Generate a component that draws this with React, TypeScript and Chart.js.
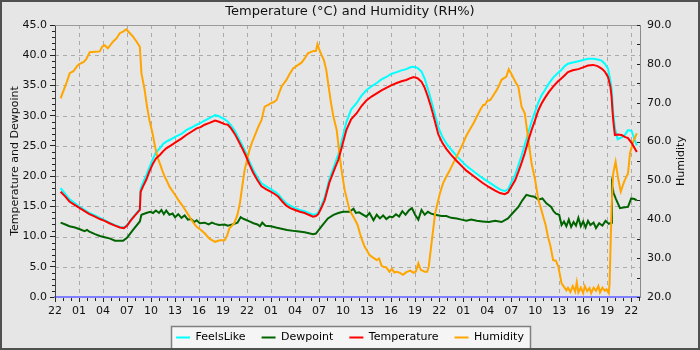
import React, { useEffect, useRef } from 'react';
import { Chart, registerables } from 'chart.js';

Chart.register(...registerables);

// ---------- text ----------
const TITLE = 'Temperature (°C) and Humidity (RH%)';
const LEFT_TITLE = 'Temperature and Dewpoint';
const RIGHT_TITLE = 'Humidity';
const SERIES_LABELS = ['FeelsLike', 'Dewpoint', 'Temperature', 'Humidity'];
const SERIES_COLORS = ['#00ffff', '#006400', '#ff0000', '#ffa500'];

// ---------- axes ----------
const START_HOUR = 22; // clock hour at x = 0
const X_MIN = 0;
const X_MAX = 73.1; // hours since 22:00 of first day
const X_STEP = 3;
const X_MINOR = 1;
const LEFT_MIN = 0;
const LEFT_MAX = 45;
const LEFT_STEP = 5;
const LEFT_MINOR = 1;
const RIGHT_MIN = 20;
const RIGHT_MAX = 90;
const RIGHT_STEP = 10;
const RIGHT_MINOR = 5;

// ---------- data (hours since 22:00 day 1) ----------
const tempHours = [
  0.7, 1.3, 1.8, 2.5, 3.1, 3.7, 4.3, 5.0, 5.6, 6.2, 6.8, 7.5, 8.1, 8.6, 9.0, 9.5, 10.0, 10.6, 10.7, 11.0,
  11.4, 11.8, 12.25, 12.6, 13.1, 13.5, 13.9, 14.5, 15.2, 15.8, 16.4, 17.0, 17.7, 18.2, 18.7, 19.3, 20.0, 20.5, 21.2, 21.6,
  22.0, 22.5, 22.9, 23.4, 23.9, 24.3, 24.75, 25.3, 25.8, 26.4, 27.0, 27.5, 27.9, 28.4, 28.9, 29.4, 30.0, 30.6, 31.2, 31.7,
  32.25, 32.6, 32.9, 33.3, 33.7, 34.3, 35.0, 35.4, 35.8, 36.4, 37.0, 37.7, 38.3, 38.9, 39.6, 40.2, 40.8, 41.4, 42.0, 42.7,
  43.3, 43.9, 44.4, 44.8, 45.3, 45.8, 46.2, 46.6, 47.0, 47.25, 47.6, 47.9, 48.4, 48.9, 49.5, 50.2, 50.8, 51.4, 52.0, 52.7,
  53.4, 54.2, 55.0, 55.6, 56.2, 56.6, 57.0, 57.5, 57.9, 58.3, 58.7, 59.1, 59.55, 60.0, 60.4, 60.8, 61.2, 61.7, 62.25, 62.8,
  63.3, 63.7, 64.1, 64.7, 65.4, 66.0, 66.6, 67.25, 67.8, 68.3, 68.7, 69.1, 69.4, 69.55, 69.65, 69.75, 69.96, 70.3, 70.8, 71.2,
  71.6, 72.05, 72.4, 72.7,
];
const temperature = [
  17.4, 16.6, 15.8, 15.2, 14.7, 14.2, 13.7, 13.3, 12.9, 12.6, 12.2, 11.8, 11.5, 11.4, 11.8, 12.7, 13.5, 14.4, 17.4, 18.3,
  19.4, 20.8, 22.1, 22.9, 23.5, 24.1, 24.6, 25.1, 25.7, 26.2, 26.8, 27.3, 27.9, 28.1, 28.5, 28.8, 29.2, 29.0, 28.6, 28.5,
  27.9, 26.9, 25.9, 24.6, 23.2, 21.9, 20.6, 19.3, 18.3, 17.8, 17.4, 17.0, 16.6, 15.8, 15.1, 14.7, 14.4, 14.1, 13.9, 13.6,
  13.3, 13.4, 13.7, 14.8, 16.0, 19.0, 21.4, 22.7, 24.6, 27.6, 29.4, 30.4, 31.6, 32.5, 33.2, 33.7, 34.2, 34.6, 35.0, 35.4,
  35.7, 35.9, 36.2, 36.4, 36.2, 35.6, 34.6, 33.1, 31.4, 30.2, 28.4, 26.9, 25.5, 24.5, 23.5, 22.5, 21.7, 20.9, 20.3, 19.6,
  18.9, 18.2, 17.6, 17.2, 17.0, 17.3, 18.2, 19.3, 20.7, 22.2, 23.8, 25.7, 27.6, 29.3, 30.9, 32.0, 32.9, 33.9, 34.8, 35.6,
  36.2, 36.7, 37.2, 37.5, 37.7, 38.0, 38.3, 38.4, 38.2, 37.8, 37.3, 36.4, 34.8, 33.1, 31.0, 29.3, 26.8, 26.9, 26.8, 26.5,
  26.3, 25.5, 24.7, 24.0,
];
const feelsLike = [
  18.0, 17.0, 16.2, 15.5, 14.9, 14.4, 13.9, 13.5, 13.1, 12.7, 12.3, 11.9, 11.6, 11.5, 11.9, 12.8, 13.6, 14.6, 17.9, 18.9,
  20.1, 21.5, 22.9, 23.9, 24.6, 25.3, 25.7, 26.1, 26.6, 27.0, 27.6, 28.0, 28.5, 28.8, 29.2, 29.6, 30.1, 29.9, 29.4, 29.0,
  28.4, 27.4, 26.4, 25.1, 23.7, 22.4, 21.1, 19.8, 18.8, 18.3, 17.8, 17.4, 17.0, 16.2, 15.5, 15.1, 14.7, 14.4, 14.2, 13.9,
  13.6, 13.7, 14.0, 15.2, 16.5, 19.6, 22.1, 23.6, 25.7, 28.9, 31.0, 32.1, 33.3, 34.2, 34.9, 35.4, 36.0, 36.4, 36.9, 37.2,
  37.5, 37.7, 38.0, 38.1, 37.9, 37.3, 36.1, 34.4, 32.6, 31.3, 29.6, 28.1, 26.5, 25.4, 24.4, 23.3, 22.5, 21.7, 21.1, 20.4,
  19.7, 19.0, 18.3, 17.8, 17.5, 17.8, 18.9, 20.2, 21.8, 23.4, 25.2, 27.0, 29.0, 30.7, 32.2, 33.4, 34.2, 35.3, 36.3, 37.0,
  37.6, 38.2, 38.6, 38.8, 39.0, 39.2, 39.4, 39.4, 39.3, 39.1, 38.6, 37.8, 35.8, 34.5, 32.5, 30.5, 28.0, 26.1, 26.4, 26.8,
  27.6, 27.5, 26.1, 25.1,
];

const dewHours = [
  0.7, 1.3, 1.8, 2.5, 3.1, 3.7, 4.0, 4.3, 5.0, 5.6, 6.2, 6.8, 7.5, 8.5, 9.0, 9.75, 10.6, 10.8, 11.4, 11.9,
  12.25, 12.6, 13.0, 13.3, 13.6, 13.9, 14.3, 14.7, 15.0, 15.4, 15.8, 16.2, 16.6, 17.0, 17.4, 17.7, 18.1, 18.7, 19.2, 19.6,
  20.0, 20.5, 21.2, 21.6, 22.4, 22.8, 23.2, 23.6, 24.3, 24.8, 25.3, 25.6, 25.9, 26.3, 27.0, 27.6, 28.3, 29.0, 30.0, 31.2,
  32.25, 32.6, 33.3, 34.1, 34.8, 35.4, 36.0, 36.8, 37.3, 37.6, 38.0, 38.9, 39.3, 39.8, 40.2, 40.6, 41.0, 41.4, 41.8, 42.2,
  42.6, 43.0, 43.4, 43.8, 44.2, 44.6, 45.0, 45.4, 45.8, 46.2, 46.6, 47.0, 47.5, 48.3, 48.9, 49.5, 50.2, 50.8, 51.4, 52.0,
  52.7, 53.4, 54.2, 55.0, 55.8, 56.6, 57.2, 57.9, 58.4, 58.9, 59.4, 59.9, 60.4, 60.9, 61.4, 62.0, 62.3, 62.6, 63.0, 63.3,
  63.6, 63.9, 64.2, 64.5, 64.8, 65.1, 65.4, 65.7, 66.0, 66.3, 66.6, 66.9, 67.3, 67.6, 68.0, 68.4, 68.8, 69.2, 69.5, 69.6,
  69.8, 70.1, 70.6, 71.0, 71.6, 72.0, 72.4, 72.7,
];
const dewpoint = [
  12.3, 12.0, 11.7, 11.5, 11.2, 10.9, 11.1, 10.8, 10.4, 10.1, 9.9, 9.7, 9.3, 9.3, 9.8, 11.1, 12.5, 13.6, 13.9, 14.1,
  13.9, 14.3, 13.9, 14.4, 13.7, 14.3, 13.6, 13.8, 13.2, 13.7, 13.1, 13.5, 12.8, 12.9, 12.4, 12.7, 12.2, 12.3, 12.0, 12.3,
  12.1, 11.9, 12.0, 11.8, 12.1, 12.3, 13.2, 12.9, 12.5, 12.2, 12.0, 11.7, 12.3, 11.8, 11.7, 11.5, 11.3, 11.1, 10.9, 10.7,
  10.4, 10.5, 11.7, 13.0, 13.6, 13.9, 14.1, 14.1, 14.6, 13.9, 14.0, 13.3, 13.9, 12.7, 13.6, 13.0, 13.5, 12.9, 13.3, 13.2,
  13.7, 13.3, 14.2, 13.6, 14.3, 14.7, 13.6, 12.8, 14.4, 13.6, 14.1, 13.8, 13.6, 13.4, 13.4, 13.1, 13.0, 12.8, 12.6, 12.8,
  12.6, 12.5, 12.4, 12.6, 12.4, 13.0, 13.9, 14.9, 16.0, 16.9, 16.7, 16.6, 16.1, 16.3, 15.5, 14.9, 14.2, 13.8, 13.6, 11.9,
  12.5, 11.7, 12.8, 11.6, 12.4, 11.8, 13.1, 11.7, 12.5, 11.5, 12.6, 11.9, 12.3, 11.4, 12.2, 11.8, 12.6, 12.1, 12.3, 18.5,
  17.2, 16.2, 14.7, 14.8, 14.9, 16.3, 16.2, 16.0,
];

const humHours = [
  0.7, 1.1, 1.5, 1.84, 2.3, 2.8, 3.09, 3.6, 3.9, 4.34, 5.0, 5.59, 5.9, 6.2, 6.6, 7.25, 7.7, 8.09, 8.5, 8.9,
  9.3, 9.75, 10.2, 10.6, 10.8, 11.2, 11.5, 11.8, 12.2, 12.5, 12.8, 13.1, 13.4, 13.7, 14.0, 14.3, 14.8, 15.1, 15.4, 15.9,
  16.4, 17.0, 17.4, 17.7, 18.2, 18.7, 19.3, 20.0, 20.6, 21.2, 21.5, 21.8, 22.1, 22.4, 22.8, 23.1, 23.4, 23.7, 24.0, 24.3,
  24.6, 25.0, 25.4, 25.8, 26.2, 26.6, 27.0, 27.3, 27.7, 28.0, 28.3, 28.6, 28.9, 29.3, 29.75, 30.3, 30.8, 31.2, 31.6, 32.0,
  32.3, 32.6, 32.8, 33.0, 33.3, 33.6, 33.9, 34.2, 34.5, 34.8, 35.2, 35.5, 35.8, 36.2, 36.8, 37.5, 37.8, 38.1, 38.4, 38.7,
  39.0, 39.3, 39.7, 40.2, 40.5, 40.8, 41.0, 41.4, 41.8, 42.1, 42.4, 42.7, 43.1, 43.5, 43.9, 44.4, 44.8, 45.1, 45.4, 45.7,
  46.2, 46.5, 46.7, 47.1, 47.5, 48.1, 48.5, 48.9, 49.3, 49.75, 50.4, 51.0, 51.4, 51.8, 52.3, 52.7, 53.1, 53.5, 53.7, 54.0,
  54.4, 54.8, 55.2, 55.5, 55.8, 56.4, 56.7, 57.0, 57.3, 57.6, 57.9, 58.3, 58.7, 59.1, 59.55, 60.0, 60.4, 60.7, 61.0, 61.3,
  61.6, 61.9, 62.25, 62.6, 62.9, 63.3, 63.6, 63.9, 64.1, 64.4, 64.7, 65.0, 65.2, 65.4, 65.7, 66.0, 66.2, 66.5, 66.8, 67.0,
  67.3, 67.6, 67.9, 68.1, 68.4, 68.7, 68.9, 69.2, 69.3, 69.55, 69.75, 70.05, 70.4, 70.7, 71.0, 71.2, 71.6, 71.85, 72.25, 72.7,
];
const humidity = [
  71.1, 73.3, 75.5, 77.6, 78.1, 79.5, 80.0, 80.5, 81.2, 83.0, 83.1, 83.2, 84.4, 84.8, 84.0, 85.7, 86.6, 87.9, 88.3, 88.9,
  88.0, 87.0, 85.7, 84.4, 77.6, 73.3, 69.0, 65.5, 62.0, 58.7, 56.0, 54.4, 52.6, 51.0, 49.8, 48.4, 46.9, 46.0, 45.0, 43.6,
  42.0, 40.0, 38.8, 38.1, 37.3, 36.4, 35.0, 34.2, 34.6, 34.6, 35.8, 37.7, 38.3, 39.0, 41.2, 44.1, 48.5, 52.7, 55.3, 57.8,
  59.7, 61.7, 63.8, 65.5, 69.0, 69.4, 69.9, 70.1, 70.7, 72.5, 74.1, 75.0, 75.8, 77.3, 78.8, 79.6, 80.3, 81.4, 82.7, 83.1,
  83.3, 83.3, 85.1, 83.8, 82.3, 81.0, 78.4, 74.0, 69.8, 66.3, 63.0, 57.5, 52.7, 47.5, 42.4, 39.8, 38.6, 36.4, 34.5, 32.9,
  31.9, 30.8, 30.2, 29.5, 29.9, 28.1, 27.8, 27.6, 26.5, 27.3, 26.3, 26.5, 26.2, 25.7, 26.4, 26.8, 26.2, 26.6, 28.7, 27.0,
  26.5, 26.5, 27.8, 34.7, 41.5, 46.7, 49.3, 51.0, 52.5, 54.4, 57.0, 59.6, 61.5, 63.0, 64.7, 66.4, 68.0, 69.4, 69.4, 70.4,
  70.7, 72.0, 73.3, 74.5, 75.9, 76.7, 78.6, 77.5, 76.3, 75.1, 74.1, 69.0, 67.3, 61.2, 54.4, 50.1, 45.0, 43.0, 40.7, 38.6,
  35.5, 33.2, 29.5, 29.3, 27.8, 23.5, 22.6, 21.7, 22.4, 21.3, 22.8, 21.4, 23.8, 21.2, 22.4, 21.0, 22.8, 21.5, 22.3, 21.0,
  22.4, 21.6, 22.8, 21.2, 22.4, 21.6, 22.0, 21.0, 23.5, 43.2, 51.8, 54.8, 50.1, 47.1, 49.0, 50.1, 51.8, 57.0, 60.0, 62.1,
];

// ---------- style ----------
const FONT = 'DejaVu Sans';
const BG = '#e6e6e6';
const GRID = '#ababab';
const TEXT = '#111111';

const toPoints = (xs: number[], ys: number[]) => xs.map((x, i) => ({ x, y: ys[i] }));
const pad2 = (n: number) => (n < 10 ? '0' + n : String(n));

function drawDashedGrid(chart: any) {
  const { ctx, chartArea: ca, scales } = chart;
  const xs = scales.x;
  const yl = scales.y;
  ctx.save();
  ctx.strokeStyle = GRID;
  ctx.lineWidth = 1;
  ctx.setLineDash([4, 4]);
  for (let h = X_MIN + X_STEP; h < X_MAX; h += X_STEP) {
    const px = Math.round(xs.getPixelForValue(h)) + 0.5;
    ctx.beginPath();
    ctx.moveTo(px, ca.top);
    ctx.lineTo(px, ca.bottom);
    ctx.stroke();
  }
  for (let v = LEFT_MIN + LEFT_STEP; v < LEFT_MAX; v += LEFT_STEP) {
    const py = Math.round(yl.getPixelForValue(v)) + 0.5;
    ctx.beginPath();
    ctx.moveTo(ca.left, py);
    ctx.lineTo(ca.right, py);
    ctx.stroke();
  }
  ctx.restore();
}

const decorPlugin = {
  id: 'decor',
  beforeDraw(chart: any) {
    const { ctx, width, height } = chart;
    ctx.save();
    ctx.fillStyle = BG;
    ctx.fillRect(0, 0, width, height);
    // legend frame
    const lg = chart.legend;
    if (lg && lg.lineWidths) {
      const p = lg.options.labels.padding;
      const rowW = lg.lineWidths[0] - p;
      const start = (lg.left + p + lg.right - lg.lineWidths[0]) / 2;
      const cy = lg.top + p + 11 / 2;
      const x0 = Math.round(start - 5) + 0.5;
      const x1 = Math.round(start + rowW + 6) + 0.5;
      const y0 = Math.round(cy - 12) + 0.5;
      const y1 = Math.round(cy + 11) + 0.5;
      ctx.fillStyle = '#f5f5f5';
      ctx.fillRect(x0, y0, x1 - x0, y1 - y0);
      ctx.strokeStyle = '#808080';
      ctx.lineWidth = 1.5;
      ctx.strokeRect(x0, y0, x1 - x0, y1 - y0);
    }
    ctx.restore();
    drawDashedGrid(chart);
  },
  afterDraw(chart: any) {
    const { ctx, chartArea: ca, scales, width, height } = chart;
    const xs = scales.x;
    const yl = scales.y;
    const yr = scales.y1;
    ctx.save();
    // top outline of plot
    ctx.strokeStyle = '#9a9a9a';
    ctx.lineWidth = 1;
    ctx.beginPath();
    ctx.moveTo(ca.left, Math.round(ca.top) + 0.5);
    ctx.lineTo(ca.right, Math.round(ca.top) + 0.5);
    ctx.stroke();
    // minor ticks
    ctx.strokeStyle = '#222222';
    ctx.beginPath();
    for (let h = X_MIN + X_MINOR; h < X_MAX; h += X_MINOR) {
      if (Math.abs(h % X_STEP) < 1e-6) continue;
      const px = Math.round(xs.getPixelForValue(h)) + 0.5;
      ctx.moveTo(px, ca.bottom + 1);
      ctx.lineTo(px, ca.bottom + 4);
    }
    for (let v = LEFT_MIN + LEFT_MINOR; v < LEFT_MAX; v += LEFT_MINOR) {
      if (Math.abs(v % LEFT_STEP) < 1e-6) continue;
      const py = Math.round(yl.getPixelForValue(v)) + 0.5;
      ctx.moveTo(ca.left - 3, py);
      ctx.lineTo(ca.left, py);
    }
    for (let v = RIGHT_MIN; v <= RIGHT_MAX; v += RIGHT_MINOR) {
      const py = Math.round(yr.getPixelForValue(v)) + 0.5;
      ctx.moveTo(ca.right - 3, py);
      ctx.lineTo(ca.right, py);
    }
    ctx.stroke();
    // right axis title (reads bottom to top)
    ctx.fillStyle = TEXT;
    ctx.font = `11px "${FONT}"`;
    ctx.textAlign = 'center';
    ctx.textBaseline = 'middle';
    ctx.translate(681, (ca.top + ca.bottom) / 2);
    ctx.rotate(-Math.PI / 2);
    ctx.fillText(RIGHT_TITLE, 0, 0);
    ctx.setTransform(1, 0, 0, 1, 0, 0);
    // outer frame
    ctx.strokeStyle = '#505050';
    ctx.lineWidth = 2;
    ctx.strokeRect(1, 1, width - 2, height - 2);
    ctx.restore();
  },
};

export default function App() {
  const canvasRef = useRef<HTMLCanvasElement | null>(null);

  useEffect(() => {
    if (!canvasRef.current) return;
    Chart.defaults.font.family = FONT;
    const common = { borderWidth: 2, pointRadius: 0, tension: 0, fill: false };
    const chart = new Chart(canvasRef.current, {
      type: 'line',
      data: {
        datasets: [
          { ...common, label: SERIES_LABELS[0], data: toPoints(tempHours, feelsLike), borderColor: SERIES_COLORS[0], backgroundColor: SERIES_COLORS[0], yAxisID: 'y', order: 2 },
          { ...common, label: SERIES_LABELS[1], data: toPoints(dewHours, dewpoint), borderColor: SERIES_COLORS[1], backgroundColor: SERIES_COLORS[1], yAxisID: 'y', order: 3 },
          { ...common, label: SERIES_LABELS[2], data: toPoints(tempHours, temperature), borderColor: SERIES_COLORS[2], backgroundColor: SERIES_COLORS[2], yAxisID: 'y', order: 0 },
          { ...common, label: SERIES_LABELS[3], data: toPoints(humHours, humidity), borderColor: SERIES_COLORS[3], backgroundColor: SERIES_COLORS[3], yAxisID: 'y1', order: 1 },
        ],
      },
      options: {
        responsive: false,
        animation: false,
        devicePixelRatio: 1,
        events: [],
        layout: { padding: { left: 2, right: 2, top: 2, bottom: -3 } },
        plugins: {
          title: {
            display: true,
            text: TITLE,
            color: TEXT,
            font: { family: FONT, size: 13, weight: 'normal' },
            padding: { top: 2, bottom: 5.4 },
          },
          legend: {
            display: true,
            position: 'bottom',
            labels: {
              boxWidth: 14,
              boxHeight: 2,
              padding: 16,
              color: TEXT,
              font: { family: FONT, size: 11 },
              generateLabels: (c: any) =>
                c.data.datasets.map((ds: any, i: number) => ({
                  text: ds.label,
                  fillStyle: ds.borderColor,
                  strokeStyle: ds.borderColor,
                  lineWidth: 0,
                  hidden: false,
                  datasetIndex: i,
                })),
            },
          },
          tooltip: { enabled: false },
        },
        scales: {
          x: {
            type: 'linear',
            min: X_MIN,
            max: X_MAX,
            ticks: {
              stepSize: X_STEP,
              includeBounds: false,
              autoSkip: false,
              maxRotation: 0,
              padding: 3,
              color: TEXT,
              font: { family: FONT, size: 11 },
              callback: (v: any) => pad2((START_HOUR + Number(v)) % 24),
            },
            grid: { drawOnChartArea: false, drawTicks: true, tickLength: 5, tickColor: '#222222', tickWidth: 1 },
            border: { display: true, color: '#7f7fff', width: 2 },
            afterFit: (s: any) => { s.height = 19; },
          },
          y: {
            type: 'linear',
            position: 'left',
            min: LEFT_MIN,
            max: LEFT_MAX,
            ticks: {
              stepSize: LEFT_STEP,
              padding: 3,
              color: TEXT,
              font: { family: FONT, size: 11 },
              callback: (v: any) => Number(v).toFixed(1),
            },
            grid: { drawOnChartArea: false, drawTicks: true, tickLength: 5, tickColor: '#222222' },
            border: { display: true, color: '#444444', width: 1 },
            title: {
              display: true,
              text: LEFT_TITLE,
              color: TEXT,
              font: { family: FONT, size: 11 },
              padding: { top: 7, bottom: 0 },
            },
            afterFit: (s: any) => { s.width = 53; },
          },
          y1: {
            type: 'linear',
            position: 'right',
            min: RIGHT_MIN,
            max: RIGHT_MAX,
            ticks: {
              stepSize: RIGHT_STEP,
              padding: 7,
              color: TEXT,
              font: { family: FONT, size: 11 },
              callback: (v: any) => Number(v).toFixed(1),
            },
            grid: { drawOnChartArea: false, drawTicks: false },
            border: { display: true, color: '#8a8a8a', width: 1 },
            afterFit: (s: any) => { s.width = 58; },
          },
        },
      } as any,
      plugins: [decorPlugin],
    });
    return () => chart.destroy();
  }, []);

  return (
    <div style={{ position: 'absolute', left: 0, top: 0, width: 700, height: 350 }}>
      <canvas ref={canvasRef} width={700} height={350} style={{ width: 700, height: 350, display: 'block' }} />
    </div>
  );
}
